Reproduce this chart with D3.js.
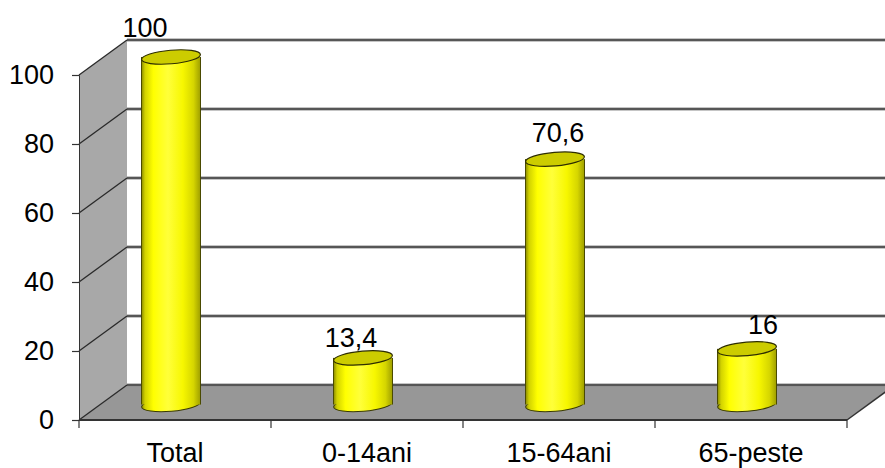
<!DOCTYPE html>
<html>
<head>
<meta charset="utf-8">
<script src="https://cdn.jsdelivr.net/npm/d3@7"></script>
<style>
  html, body { margin: 0; padding: 0; background: #ffffff; }
  svg { display: block; }
  text { font-family: "Liberation Sans", Arial, sans-serif; fill: #000; }
</style>
</head>
<body>
<svg id="chart" width="885" height="468"></svg>
<script>
// Population structure by age group (%)
const categories = ["Total", "0-14ani", "15-64ani", "65-peste"];
const values = [100, 13.4, 70.6, 16];
const valueLabels = ["100", "13,4", "70,6", "16"];
const yTicks = [0, 20, 40, 60, 80, 100];

// Label placement tweaks around each cylinder top (dx, dy)
const labelNudge = [[-26, -20], [-12, -11], [3, -17], [16, -15]];

const W = 885, H = 468;
const FONT = "27px";
const depthX = 48, depthY = 35;        // 3D depth offset of the back wall
const svg = d3.select("#chart");

const x = d3.scaleBand().domain(categories).range([79, 847]).paddingInner(0).paddingOuter(0);
const yFront = d3.scaleLinear().domain([0, 100]).range([420, 75]);
const yBar = d3.scaleLinear().domain([0, 100]).range([404.5, 57]);
const xLeft = x.range()[0], xRight = x.range()[1];

// gradients
const defs = svg.append("defs");
const body = defs.append("linearGradient").attr("id", "cylBody").attr("x1", 0).attr("x2", 1).attr("y1", 0).attr("y2", 0);
[[0, "#8a8a00"], [0.06, "#d2d200"], [0.2, "#ffff00"], [0.45, "#ffff3a"], [0.7, "#f7f700"], [0.88, "#d6d600"], [1, "#9e9e00"]]
  .forEach(([o, c]) => body.append("stop").attr("offset", o).attr("stop-color", c));

// side wall
svg.append("polygon")
  .attr("points", [[xLeft, yFront(0)], [xLeft, yFront(100)], [xLeft + depthX, yFront(100) - depthY], [xLeft + depthX, yFront(0) - depthY]].map(p => p.join(",")).join(" "))
  .attr("fill", "#a8a8a8");

// floor
svg.append("polygon")
  .attr("points", [[xLeft, yFront(0)], [xRight, yFront(0)], [xRight + depthX, yFront(0) - depthY], [xLeft + depthX, yFront(0) - depthY]].map(p => p.join(",")).join(" "))
  .attr("fill", "#979797");

// gridlines: back wall + side wall diagonals
const grid = svg.append("g");
yTicks.forEach(t => {
  const yf = yFront(t), yb = yf - depthY;
  grid.append("line").attr("x1", xLeft + depthX).attr("x2", W + 20).attr("y1", yb).attr("y2", yb)
    .attr("stroke", "#8c8c8c").attr("stroke-width", 3.2);
  grid.append("line").attr("x1", xLeft + depthX).attr("x2", W + 20).attr("y1", yb).attr("y2", yb)
    .attr("stroke", "#444").attr("stroke-width", 1.6);
  grid.append("line").attr("x1", xLeft).attr("x2", xLeft + depthX).attr("y1", yf).attr("y2", yb)
    .attr("stroke", "#2a2a2a").attr("stroke-width", 1.3);
});

// floor front and right edges
svg.append("line").attr("x1", xLeft).attr("x2", xRight).attr("y1", yFront(0)).attr("y2", yFront(0))
  .attr("stroke", "#333").attr("stroke-width", 2);
svg.append("line").attr("x1", xRight).attr("x2", xRight + depthX).attr("y1", yFront(0)).attr("y2", yFront(0) - depthY)
  .attr("stroke", "#333").attr("stroke-width", 1.5);

// value axis
const yAxis = d3.axisLeft(yFront).tickValues(yTicks).tickSize(7).tickPadding(18).tickFormat(d3.format("d"));
const ya = svg.append("g").attr("transform", `translate(${xLeft},0)`).call(yAxis);
ya.select(".domain").attr("stroke", "#333").attr("stroke-width", 1);
ya.selectAll(".tick line").attr("stroke", "#333").attr("stroke-width", 1.2);
ya.selectAll(".tick text").style("font-size", FONT).style("font-family", "Liberation Sans, Arial, sans-serif").attr("fill", "#000");

// category axis
const xAxis = d3.axisBottom(x).tickSize(0).tickPadding(0);
const xa = svg.append("g").attr("transform", `translate(0,${yFront(0)})`).call(xAxis);
xa.select(".domain").remove();
xa.selectAll(".tick text").attr("y", 42).attr("dy", 0).style("font-size", FONT).style("font-family", "Liberation Sans, Arial, sans-serif").attr("fill", "#000");
// category boundary ticks
svg.append("g").selectAll("line").data(d3.range(categories.length + 1)).join("line")
  .attr("x1", i => xLeft + i * x.step()).attr("x2", i => xLeft + i * x.step())
  .attr("y1", yFront(0)).attr("y2", yFront(0) + 8)
  .attr("stroke", "#333").attr("stroke-width", 1.2);

// cylinders
const rx = 29.5, ry = 6.8, tilt = -5;
const cx = d => x(d) + x.bandwidth() / 2 - 4;
const bars = svg.append("g").selectAll("g").data(categories).join("g");
bars.each(function (d, i) {
  const g = d3.select(this);
  const c = cx(d), yb = yBar(0), yt = yBar(values[i]);
  g.append("ellipse").attr("cx", c).attr("cy", yb).attr("rx", rx).attr("ry", ry)
    .attr("transform", `rotate(${tilt},${c},${yb})`)
    .attr("fill", "url(#cylBody)").attr("stroke", "#3a3a00").attr("stroke-width", 1);
  g.append("rect").attr("x", c - rx).attr("y", yt).attr("width", 2 * rx).attr("height", yb - yt)
    .attr("fill", "url(#cylBody)");
  g.append("line").attr("x1", c - rx).attr("x2", c - rx).attr("y1", yt).attr("y2", yb).attr("stroke", "#4a4a00").attr("stroke-width", 1);
  g.append("line").attr("x1", c + rx).attr("x2", c + rx).attr("y1", yt).attr("y2", yb).attr("stroke", "#4a4a00").attr("stroke-width", 1);
  g.append("ellipse").attr("cx", c).attr("cy", yt).attr("rx", rx).attr("ry", ry)
    .attr("transform", `rotate(${tilt},${c},${yt})`)
    .attr("fill", "#cccc00").attr("stroke", "#2e2e00").attr("stroke-width", 1.2);
});

// value labels
svg.append("g").selectAll("text").data(categories).join("text")
  .attr("x", (d, i) => cx(d) + labelNudge[i][0])
  .attr("y", (d, i) => yBar(values[i]) + labelNudge[i][1])
  .attr("text-anchor", "middle")
  .style("font-size", FONT)
  .text((d, i) => valueLabels[i]);
</script>
</body>
</html>
